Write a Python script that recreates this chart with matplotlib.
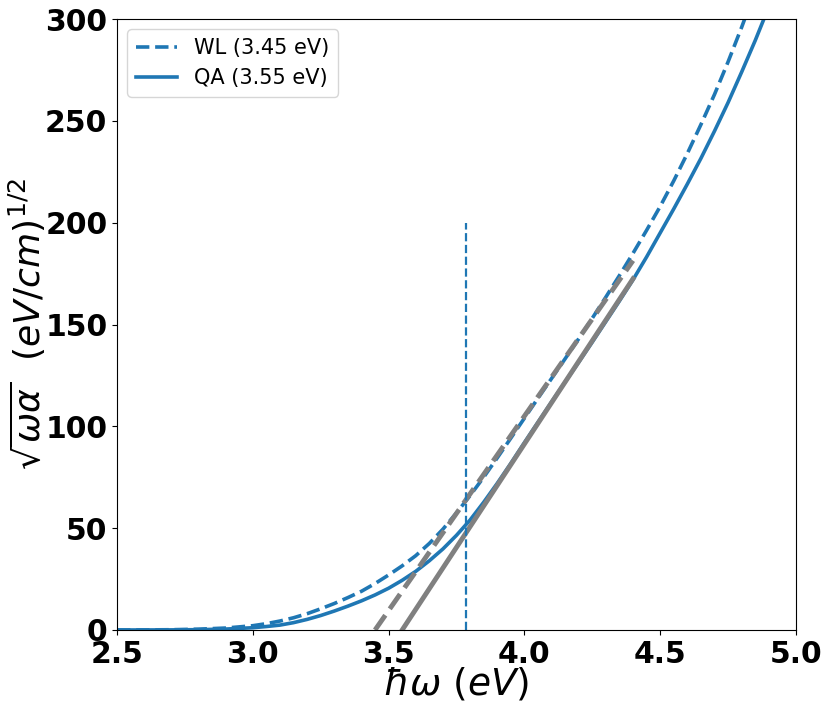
import numpy as np
import matplotlib
matplotlib.use("Agg")
import matplotlib.pyplot as plt

# photon energy grid (eV)
energy = [2.5, 2.6, 2.7, 2.8, 2.9, 3.0, 3.05, 3.1, 3.15, 3.2, 3.25, 3.3, 3.35,
          3.4, 3.45, 3.5, 3.55, 3.6, 3.65, 3.7, 3.75, 3.8, 3.85, 3.9, 3.95,
          4.0, 4.05, 4.1, 4.15, 4.2, 4.25, 4.3, 4.35, 4.4, 4.45, 4.5, 4.55,
          4.6, 4.65, 4.7, 4.75, 4.8, 4.85, 4.9]

# sqrt(omega*alpha) for the two structures
wl_vals = [0.0, 0.03, 0.13, 0.4, 0.95, 2.1, 3.1, 4.4, 6.0, 8.0, 10.4, 13.0, 15.9,
           19.0, 22.8, 27.0, 31.5, 36.5, 42.5, 49.5, 57.5, 66.0, 75.0, 84.5, 94.2,
           104.0, 113.8, 123.5, 133.2, 143.0, 153.1, 163.5, 174.1, 185.0, 196.3, 208.0, 220.6,
           234.0, 248.2, 263.0, 279.0, 296.0, 314.0, 333.0]
qa_vals = [0.0, 0.01, 0.05, 0.15, 0.45, 1.1, 1.7, 2.4, 3.6, 5.2, 7.1, 9.3, 11.7,
           14.3, 17.2, 20.5, 24.4, 28.8, 34.0, 39.8, 46.5, 54.0, 62.7, 72.0, 81.8,
           92.0, 102.0, 112.0, 121.8, 131.5, 141.4, 151.5, 161.6, 172.0, 183.2, 195.0, 206.8,
           219.0, 231.6, 245.0, 259.0, 274.0, 289.5, 306.0]

# linear fits (gap intercepts)
wl_fit_x = [3.45, 4.40]
wl_fit_y = [0.0, 181.4]
qa_fit_x = [3.55, 4.40]
qa_fit_y = [0.0, 172.5]

# marker line
vline_x = 3.785
vline_top = 200

fig = plt.figure(figsize=(8.3, 7.12), dpi=100)
ax = fig.add_axes([0.141, 0.1152, 0.818, 0.858])

ax.plot(energy, wl_vals, '--', color='tab:blue', lw=2.6, label='WL (3.45 eV)')
ax.plot(energy, qa_vals, '-', color='tab:blue', lw=2.6, label='QA (3.55 eV)')
ax.plot(wl_fit_x, wl_fit_y, '--', color='gray', lw=3.5)
ax.plot(qa_fit_x, qa_fit_y, '-', color='gray', lw=3.5)
ax.vlines(vline_x, 0, vline_top, colors='tab:blue', linestyles='--', lw=1.6)

ax.set_xlim(2.5, 5.0)
ax.set_ylim(0, 300)
ax.set_xticks([2.5, 3.0, 3.5, 4.0, 4.5, 5.0])
ax.set_yticks([0, 50, 100, 150, 200, 250, 300])
for lab in ax.get_xticklabels() + ax.get_yticklabels():
    lab.set_fontsize(21.5)
    lab.set_fontweight('bold')

ax.set_xlabel(r'$\hbar\omega\ (eV)$', fontsize=27)
ax.xaxis.set_label_coords(0.5, -0.058)
ax.set_ylabel(r'$\sqrt{\omega\alpha}\ \ (eV/cm)^{1/2}$', fontsize=26)
ax.yaxis.set_label_coords(-0.102, 0.5)
ax.legend(loc='upper left', fontsize=15)

fig.savefig('out.png', dpi=100)
